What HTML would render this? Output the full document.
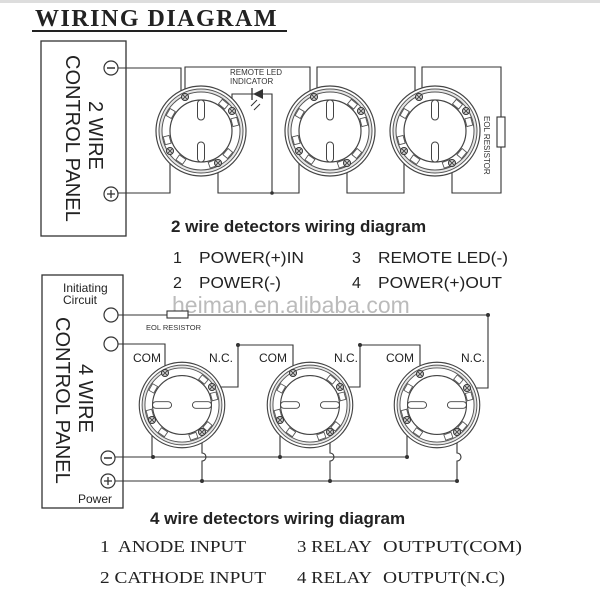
<!DOCTYPE html>
<html><head><meta charset="utf-8"><style>
body{margin:0;background:#fff;}
svg{display:block;}
text{white-space:pre;}
.s{font-family:"Liberation Sans",sans-serif;}
.r{font-family:"Liberation Serif",serif;}
</style></head><body>
<svg width="600" height="600" viewBox="0 0 600 600" xmlns="http://www.w3.org/2000/svg" xml:space="preserve">
<defs>
<g id="det">
 <circle r="45" fill="#fff" stroke="#444" stroke-width="1.2"/>
 <circle r="42" fill="#e6e6e6" stroke="#555" stroke-width="1"/>
 <circle r="39" fill="#fff" stroke="#555" stroke-width="1"/>
 <circle r="31" fill="#fff" stroke="#444" stroke-width="1.2"/>
 <g fill="#fff" stroke="#555" stroke-width="0.9">
  <rect x="-4" y="-38" width="8" height="6" transform="rotate(40)"/>
  <rect x="-4" y="-38" width="8" height="6" transform="rotate(75)"/>
  <rect x="-4" y="-38" width="8" height="6" transform="rotate(130)"/>
  <rect x="-4" y="-38" width="8" height="6" transform="rotate(160)"/>
  <rect x="-4" y="-38" width="8" height="6" transform="rotate(215)"/>
  <rect x="-4" y="-38" width="8" height="6" transform="rotate(255)"/>
  <rect x="-4" y="-38" width="8" height="6" transform="rotate(300)"/>
 </g>
</g>
<g id="term"><circle r="3.5" fill="#ccc" stroke="#333" stroke-width="1"/><path d="M-2,-2L2,2M2,-2L-2,2" stroke="#333" stroke-width="0.8"/></g>
</defs>
<rect x="0" y="0" width="600" height="3" fill="#ddd"/>
<text x="35" y="26" class="r" font-size="24" font-weight="bold" fill="#222" letter-spacing="1.5">WIRING DIAGRAM</text>
<line x1="32" y1="31" x2="287" y2="31" stroke="#222" stroke-width="2"/>

<!-- 2 wire panel -->
<rect x="41" y="41" width="85" height="195" fill="none" stroke="#333" stroke-width="1.3"/>
<text transform="translate(66,55) rotate(90)" class="s" font-size="20" fill="#222">CONTROL PANEL</text>
<text transform="translate(89,101) rotate(90)" class="s" font-size="20" fill="#222">2 WIRE</text>
<circle cx="111" cy="68" r="7" fill="#fff" stroke="#333" stroke-width="1.2"/><line x1="107" y1="68" x2="115" y2="68" stroke="#333" stroke-width="1.5"/>
<circle cx="111" cy="194" r="7" fill="#fff" stroke="#333" stroke-width="1.2"/><path d="M107,194h8M111,190v8" stroke="#333" stroke-width="1.3"/>

<g fill="none" stroke="#333" stroke-width="1.1">
<path d="M118,68H181V97"/>
<path d="M185,97V67H310V97"/>
<path d="M317,97V67H415V98"/>
<path d="M422,98V67H501V117M501,147V193H452V163"/>
<rect x="497" y="117" width="8" height="30" fill="#fff"/>
<path d="M232,111V94H272V193"/>
<path d="M218,163V193H299V150"/>
<path d="M170,151V193H118"/>
<path d="M347,163V193H404V150"/>
</g>
<circle cx="272" cy="193" r="1.8" fill="#333"/>
<path d="M253,94L263,89V99Z" fill="#333"/><line x1="252" y1="88" x2="252" y2="100" stroke="#333" stroke-width="1.3"/>
<path d="M251,106l6,-6M254,110l6,-6" stroke="#333" stroke-width="1"/>
<text x="230" y="75" class="s" font-size="8" fill="#333">REMOTE LED</text>
<text x="230" y="84" class="s" font-size="8" fill="#333">INDICATOR</text>
<text transform="translate(484,116) rotate(90)" class="s" font-size="8" fill="#333">EOL RESISTOR</text>

<g transform="translate(201,131)"><use href="#det"/><rect x="-3.5" y="-31" width="7" height="20" rx="3.5" fill="#fff" stroke="#444"/><rect x="-3.5" y="11" width="7" height="20" rx="3.5" fill="#fff" stroke="#444"/><use href="#term" x="-16" y="-34"/><use href="#term" x="31" y="-20"/><use href="#term" x="17" y="32"/><use href="#term" x="-31" y="20"/></g>
<g transform="translate(330,131)"><use href="#det"/><rect x="-3.5" y="-31" width="7" height="20" rx="3.5" fill="#fff" stroke="#444"/><rect x="-3.5" y="11" width="7" height="20" rx="3.5" fill="#fff" stroke="#444"/><use href="#term" x="-16" y="-34"/><use href="#term" x="31" y="-20"/><use href="#term" x="17" y="32"/><use href="#term" x="-31" y="20"/></g>
<g transform="translate(435,131)"><use href="#det"/><rect x="-3.5" y="-31" width="7" height="20" rx="3.5" fill="#fff" stroke="#444"/><rect x="-3.5" y="11" width="7" height="20" rx="3.5" fill="#fff" stroke="#444"/><use href="#term" x="-16" y="-34"/><use href="#term" x="31" y="-20"/><use href="#term" x="17" y="32"/><use href="#term" x="-31" y="20"/></g>

<text x="171" y="232" class="s" font-size="17" font-weight="bold" fill="#222">2 wire detectors wiring diagram</text>
<g class="s" font-size="16" fill="#222">
<text x="173" y="263">1</text><text x="199" y="263" textLength="105" lengthAdjust="spacingAndGlyphs">POWER(+)IN</text>
<text x="352" y="263">3</text><text x="378" y="263" textLength="130" lengthAdjust="spacingAndGlyphs">REMOTE LED(-)</text>
<text x="173" y="288">2</text><text x="199" y="288" textLength="82" lengthAdjust="spacingAndGlyphs">POWER(-)</text>
<text x="352" y="288">4</text><text x="378" y="288" textLength="124" lengthAdjust="spacingAndGlyphs">POWER(+)OUT</text>
</g>
<text x="172" y="313" class="s" font-size="23" fill="#bbb">heiman.en.alibaba.com</text>

<!-- 4 wire panel -->
<rect x="42" y="275" width="81" height="233" fill="none" stroke="#333" stroke-width="1.3"/>
<text x="63" y="292" class="s" font-size="12" fill="#222">Initiating</text>
<text x="63" y="304" class="s" font-size="12" fill="#222">Circuit</text>
<text x="78" y="503" class="s" font-size="12" fill="#222">Power</text>
<text transform="translate(56,317) rotate(90)" class="s" font-size="20" fill="#222">CONTROL PANEL</text>
<text transform="translate(79,364) rotate(90)" class="s" font-size="20" fill="#222">4 WIRE</text>
<circle cx="111" cy="315" r="7" fill="#fff" stroke="#333" stroke-width="1.2"/>
<circle cx="111" cy="344" r="7" fill="#fff" stroke="#333" stroke-width="1.2"/>
<circle cx="108" cy="458" r="7" fill="#fff" stroke="#333" stroke-width="1.2"/><line x1="104" y1="458" x2="112" y2="458" stroke="#333" stroke-width="1.5"/>
<circle cx="108" cy="481" r="7" fill="#fff" stroke="#333" stroke-width="1.2"/><path d="M104,481h8M108,477v8" stroke="#333" stroke-width="1.3"/>

<g fill="none" stroke="#333" stroke-width="1.1">
<path d="M118,315H488V388H467"/>
<rect x="167" y="311" width="21" height="7" fill="#fff"/>
<path d="M118,344H165V373"/>
<path d="M212,387H238V345H293V373"/>
<path d="M340,387H360V345H420V374"/>
<path d="M115,457H407"/>
<path d="M152,420V457M280,420V457M407,420V457"/>
<path d="M115,481H457"/>
<path d="M202,432V453a4,4 0 0 1 0,8V481"/>
<path d="M330,432V453a4,4 0 0 1 0,8V481"/>
<path d="M457,432V453a4,4 0 0 1 0,8V481"/>
</g>
<g fill="#333">
<circle cx="488" cy="315" r="2"/><circle cx="238" cy="345" r="2"/><circle cx="360" cy="345" r="2"/>
<circle cx="153" cy="457" r="2"/><circle cx="280" cy="457" r="2"/><circle cx="407" cy="457" r="2"/>
<circle cx="202" cy="481" r="2"/><circle cx="330" cy="481" r="2"/><circle cx="457" cy="481" r="2"/>
</g>
<text x="146" y="330" class="s" font-size="7.5" fill="#333">EOL RESISTOR</text>
<g class="s" font-size="12" fill="#222">
<text x="133" y="362">COM</text><text x="209" y="362">N.C.</text>
<text x="259" y="362">COM</text><text x="334" y="362">N.C.</text>
<text x="386" y="362">COM</text><text x="461" y="362">N.C.</text>
</g>

<g transform="translate(182,405) scale(0.95)"><use href="#det"/><rect x="-31" y="-3.5" width="20" height="7" rx="3.5" fill="#fff" stroke="#444"/><rect x="11" y="-3.5" width="20" height="7" rx="3.5" fill="#fff" stroke="#444"/></g>
<g transform="translate(310,405) scale(0.95)"><use href="#det"/><rect x="-31" y="-3.5" width="20" height="7" rx="3.5" fill="#fff" stroke="#444"/><rect x="11" y="-3.5" width="20" height="7" rx="3.5" fill="#fff" stroke="#444"/></g>
<g transform="translate(437,405) scale(0.95)"><use href="#det"/><rect x="-31" y="-3.5" width="20" height="7" rx="3.5" fill="#fff" stroke="#444"/><rect x="11" y="-3.5" width="20" height="7" rx="3.5" fill="#fff" stroke="#444"/></g>
<g><use href="#term" x="165" y="373"/><use href="#term" x="212" y="387"/><use href="#term" x="152" y="420"/><use href="#term" x="202" y="432"/>
<use href="#term" x="293" y="373"/><use href="#term" x="340" y="387"/><use href="#term" x="280" y="420"/><use href="#term" x="330" y="432"/>
<use href="#term" x="420" y="374"/><use href="#term" x="467" y="388"/><use href="#term" x="407" y="420"/><use href="#term" x="457" y="432"/></g>

<text x="150" y="524" class="s" font-size="17" font-weight="bold" fill="#222">4 wire detectors wiring diagram</text>
<g class="r" font-size="17" fill="#222">
<text x="100" y="552" textLength="146" lengthAdjust="spacingAndGlyphs">1  ANODE INPUT</text>
<text x="297" y="552" textLength="75" lengthAdjust="spacingAndGlyphs">3 RELAY</text><text x="383" y="552" textLength="139" lengthAdjust="spacingAndGlyphs">OUTPUT(COM)</text>
<text x="100" y="583" textLength="166" lengthAdjust="spacingAndGlyphs">2 CATHODE INPUT</text>
<text x="297" y="583" textLength="75" lengthAdjust="spacingAndGlyphs">4 RELAY</text><text x="383" y="583" textLength="122" lengthAdjust="spacingAndGlyphs">OUTPUT(N.C)</text>
</g>
</svg>
</body></html>
